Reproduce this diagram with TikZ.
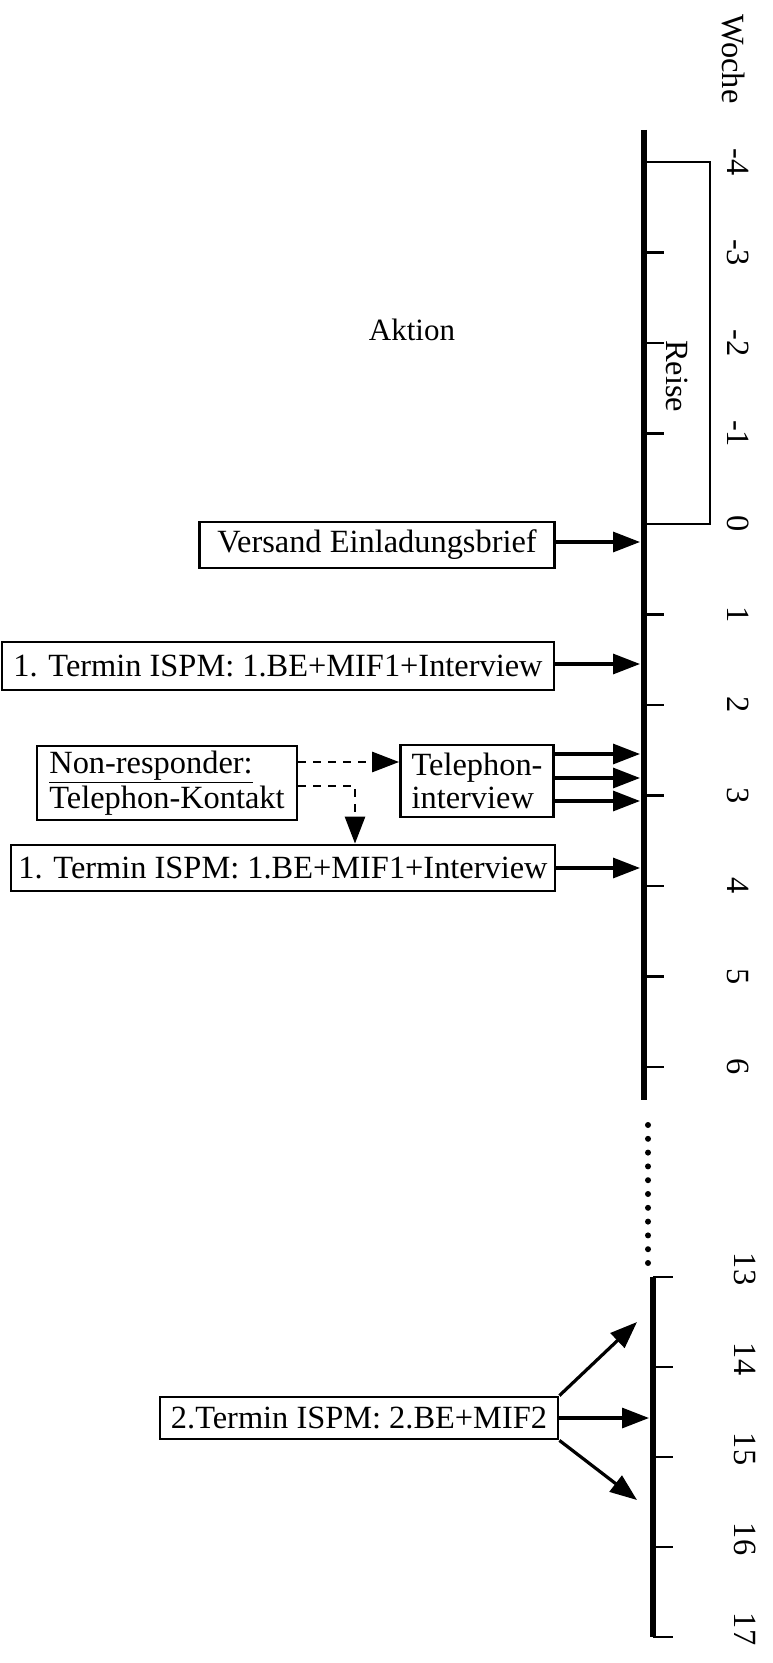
\documentclass[tikz,border=0pt]{standalone}
\usepackage{fontspec}
\setmainfont{Liberation Serif}
\usepackage{tikz}
\usetikzlibrary{arrows.meta}
\tikzset{every picture/.style={x=0.5pt,y=-0.5pt}}
\tikzset{
  kasten/.style={draw, line width=1.4pt, inner sep=0pt, font=\fontsize{16.2}{16.5}\selectfont},
  pfeil/.style={-{Triangle[length=13.5pt,width=10pt]}, line width=1.6pt},
  strich/.style={pfeil, line width=1.4pt, dash pattern=on 4pt off 3.5pt},
  woche/.style={rotate=-90, font=\fontsize{16.2}{15}\selectfont},
  achse/.style={line width=3pt},
  kerbe/.style={line width=1.2pt}
}

\begin{document}
\begin{tikzpicture}
    \useasboundingbox (0,0) rectangle (772,1663);
    % Zeitachse Woche -4 bis 6
    \draw[achse] (644,130) -- (644,1100);
    \foreach \w in {-3,-2,-1,1,2,3,4,5,6}
        \draw[kerbe] (644,{524+90.5*\w}) -- ++(20,0);
    \foreach \w in {-4,...,6}
        \node[woche] (w\w) at (738,{524+90.5*\w}) {\w};
    \node[woche] (kopf) at (733,59) {Woche};
    \node[font=\fontsize{15.5}{15}\selectfont] (aktion) at (412,330) {Aktion};
    % Reise
    \draw[line width=1.2pt] (644,162) -- (710,162) -- (710,524) -- (644,524);
    \node[woche] (reise) at (677,376) {Reise};
    % Luecke
    \foreach \i in {0,...,10}
        \fill (648,{1125+13.8*\i}) circle (1.5pt);
    % Zeitachse Woche 13 bis 17
    \draw[achse] (653,1277) -- (653,1637);
    \foreach \w in {13,...,17}{
        \draw[kerbe] (653,{1277+90*(\w-13)}) -- ++(20,0);
        \node[woche] (w\w) at (745,{1269+90*(\w-13)}) {\w};
    }

    % Aktionen
    \node[kasten, minimum width=177.5pt, minimum height=23pt] (versand) at (377,545) {Versand Einladungsbrief};
    \node[kasten, minimum width=276pt, minimum height=24pt] (termin1a) at (278,666) {1. Termin ISPM: 1.BE+MIF1+Interview};
    \node[kasten, minimum width=130pt, minimum height=37pt, align=left] (nonresp) at (167,783) {\underline{Non-responder:}\\Telephon-Kontakt};
    \node[kasten, minimum width=76.5pt, minimum height=36pt, align=left] (telefon) at (477,781) {Telephon-\\interview};
    \node[kasten, minimum width=272pt, minimum height=23pt] (termin1b) at (283,868) {1. Termin ISPM: 1.BE+MIF1+Interview};
    \node[kasten, minimum width=199pt, minimum height=21pt] (termin2) at (359,1418) {2.Termin ISPM: 2.BE+MIF2};

    % Pfeilenden an der Achse
    \coordinate (a0) at (640,542);
    \coordinate (a1) at (640,664);
    \coordinate (a2) at (640,754);
    \coordinate (a3) at (640,778);
    \coordinate (a4) at (640,801);
    \coordinate (a5) at (640,868);
    \coordinate (b1) at (637,1322);
    \coordinate (b2) at (649,1418);
    \coordinate (b3) at (637,1500);

    \draw[pfeil] (versand.east |- a0) -- (a0);
    \draw[pfeil] (termin1a.east |- a1) -- (a1);
    \draw[pfeil] (telefon.east |- a2) -- (a2);
    \draw[pfeil] (telefon.east |- a3) -- (a3);
    \draw[pfeil] (telefon.east |- a4) -- (a4);
    \draw[pfeil] (termin1b.east |- a5) -- (a5);
    \draw[pfeil] (termin2.north east) -- (b1);
    \draw[pfeil] (termin2.east) -- (b2);
    \draw[pfeil] (termin2.south east) -- (b3);

    % Non-responder
    \coordinate (d1) at (0,762);
    \coordinate (knick) at (355,786);
    \draw[strich] (nonresp.east |- d1) -- (telefon.west |- d1);
    \draw[strich] (nonresp.east |- knick) -- (knick) -- (knick |- termin1b.north);
\end{tikzpicture}
\end{document}
